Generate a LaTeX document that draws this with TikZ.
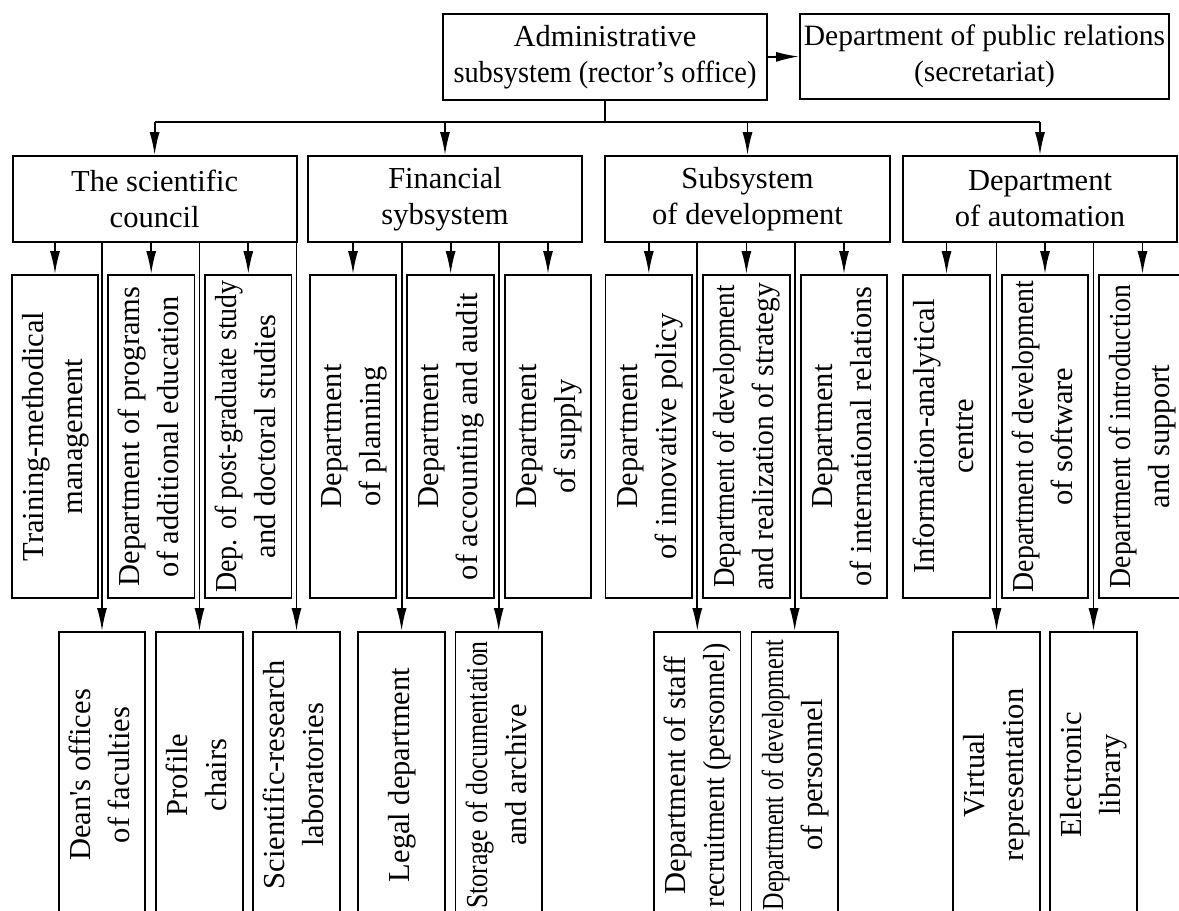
\documentclass[tikz,border=0pt]{standalone}
\usepackage{fontspec}
\setmainfont{Liberation Serif}
\usepackage{graphicx}
\usetikzlibrary{arrows.meta}
\newcommand{\vlab}[1]{\rotatebox{90}{\begin{tabular}{@{}c@{}}#1\end{tabular}}}
\newcommand{\sq}[2]{\scalebox{#1}[1]{#2}}

\begin{document}
\begin{tikzpicture}[x=1pt,y=-1pt,
  line width=1.8pt,
  >={Latex[length=23pt,width=10pt]},
  txt/.style={font=\fontsize{30.5}{36}\selectfont},
  vtxt/.style={font=\fontsize{30.5}{39}\selectfont},
  box/.style={draw,txt,align=center,inner sep=1pt,minimum height=86pt,minimum width=#1},
  midbox/.style={draw,vtxt,inner sep=0pt,minimum width=86.5pt,minimum height=323pt},
  lowbox/.style={draw,vtxt,inner sep=0pt,minimum width=86.5pt,minimum height=286pt}
  ]
\useasboundingbox (0,0) rectangle (1179,911);
\def\ya{199}
\def\yb{436.5}
\def\yc{775}
% top
\node[box=324pt] (adm) at (605,57) {Administrative\\\sq{0.93}{subsystem (rector’s office)}};
\node[box=369pt,minimum height=85pt,font=\fontsize{29.5}{36}\selectfont] (pr) at (984.5,56.5) {Department of public relations\\(secretariat)};
\draw[->] (adm.east) -- (pr.west);
% subsystems
\node[box=284pt] (sci) at (154.6,\ya) {The scientific\\council};
\node[box=274pt] (fin) at (445,\ya) {Financial\\sybsystem};
\node[box=285pt] (dev) at (747.5,\ya) {Subsystem\\of development};
\node[box=274pt] (aut) at (1040,\ya) {Department\\of automation};
\draw (adm.south) -- ++(0,21) coordinate (bus);
\draw (bus -| sci.north) -- (bus -| aut.north);
\foreach \g in {sci,fin,dev,aut}
  \draw[->] (bus -| \g.north) -- (\g.north);
% second row
\node[midbox] (sci1) at (55,\yb) {\vlab{Training-methodical\\management}};
\node[midbox] (sci2) at (151.2,\yb) {\vlab{Department of programs\\of additional education}};
\node[midbox] (sci3) at (248.3,\yb) {\vlab{\sq{0.915}{Dep. of post-graduate study}\\and doctoral studies}};
\node[midbox] (fin1) at (353,\yb) {\vlab{Department\\of planning}};
\node[midbox] (fin2) at (450.6,\yb) {\vlab{Department\\of accounting and audit}};
\node[midbox] (fin3) at (548,\yb) {\vlab{Department\\of supply}};
\node[midbox] (dev1) at (648.8,\yb) {\vlab{Department\\of innovative policy}};
\node[midbox] (dev2) at (746.4,\yb) {\vlab{\sq{0.885}{Department of development}\\\sq{0.97}{and realization of strategy}}};
\node[midbox] (dev3) at (844,\yb) {\vlab{Department\\of international relations}};
\node[midbox] (aut1) at (946.5,\yb) {\vlab{Information-analytical\\centre}};
\node[midbox] (aut2) at (1045,\yb) {\vlab{\sq{0.91}{Department of development}\\of software}};
\node[midbox] (aut3) at (1142.5,\yb) {\vlab{\sq{0.91}{Department of introduction}\\and support}};
\foreach \g in {sci,fin,dev,aut}
  \foreach \i in {1,2,3}
    \draw[->] (\g.south -| \g\i.north) -- (\g\i.north);
% third row
\node[lowbox] (sciA) at (102,\yc) {\vlab{Dean\textquotesingle s offices\\of faculties}};
\node[lowbox] (sciB) at (199.5,\yc) {\vlab{Profile\\chairs}};
\node[lowbox] (sciC) at (296.5,\yc) {\vlab{Scientific-research\\laboratories}};
\node[lowbox] (finA) at (401.6,\yc) {\vlab{Legal department}};
\node[lowbox] (finB) at (498.7,\yc) {\vlab{\sq{0.85}{Storage of documentation}\\and archive}};
\node[lowbox] (devA) at (697.3,\yc) {\vlab{Department of staff\\\sq{0.92}{recruitment (personnel)}}};
\node[lowbox] (devB) at (794.7,\yc) {\vlab{\sq{0.79}{Department of development}\\of personnel}};
\node[lowbox] (autA) at (996.5,\yc) {\vlab{Virtual\\representation}};
\node[lowbox] (autB) at (1093.5,\yc) {\vlab{Electronic\\library}};
\foreach \a/\b in {sci/sciA,sci/sciB,sci/sciC,fin/finA,fin/finB,dev/devA,dev/devB,aut/autA,aut/autB}
  \draw[->] (\a.south -| \b.north) -- (\b.north);
\end{tikzpicture}
\end{document}
